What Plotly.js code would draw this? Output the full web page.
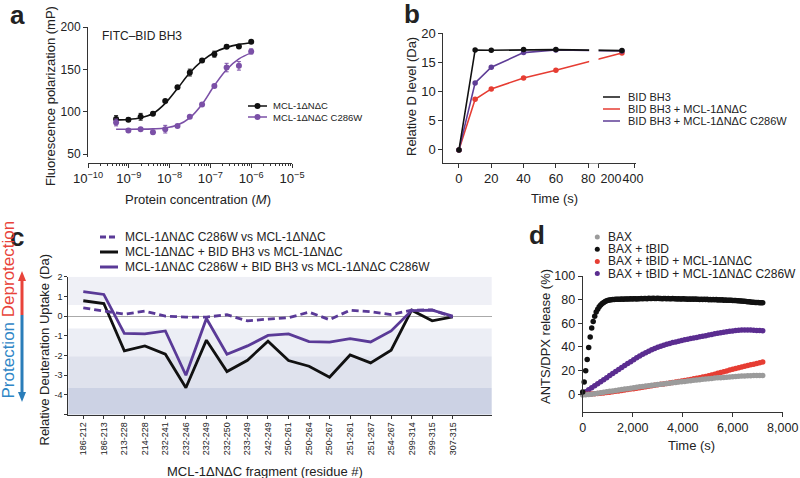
<!DOCTYPE html>
<html><head><meta charset="utf-8">
<script src="https://cdn.plot.ly/plotly-3.0.1.min.js"></script>
<style>html,body{margin:0;padding:0;background:#fff}</style>
</head><body><div id="chart" style="width:800px;height:478px"></div>
<script>
// ---------------- Panel a: fluorescence polarization ----------------
const aConc = [4.88e-10, 9.77e-10, 1.95e-9, 3.91e-9, 7.81e-9, 1.56e-8, 3.13e-8, 6.25e-8, 1.25e-7, 2.5e-7, 5e-7, 1e-6];
const aWT = [91.5, 90.7, 94.2, 97.8, 112.8, 129, 146.3, 160.5, 168, 176.7, 177.1, 182.6];
const aWTerr = [4, 2, 4, 2, 1.5, 1.5, 4, 2, 3.5, 2, 1.5, 1.5];
const aMut = [87.5, 78, 79.6, 76, 79.6, 83.2, 94.2, 108.8, 130.5, 152.2, 154.2, 171.2];
const aMutErr = [4, 1.5, 1.5, 2, 4.5, 1.5, 1.5, 1.5, 1.5, 5, 5, 3];
const aWTfit = [90.5, 91, 93, 98, 110, 127.5, 146, 160, 170, 176, 179.5, 181.5];
const aMutFit = [79.5, 79.5, 79.6, 80, 81, 84.5, 93, 109, 131, 150, 162.5, 169.5];
const aNames = ['MCL-1ΔNΔC', 'MCL-1ΔNΔC C286W'];

// ---------------- Panel b: HDX of BID BH3 ----------------
const bTime = [0, 10, 20, 40, 60, 300];
const bBid = [0, 17.14, 17.09, 17.2, 17.2, 17.03];
const bWT = [0, 8.69, 10.46, 12.34, 13.66, 16.63];
const bMut = [0, 11.49, 14.17, 16.69, 17.14, 16.97];
const bTickTimes = [0, 20, 40, 60, 80, 200, 400];
const bTickText = ['0', '20', '40', '60', '80', '200', '400'];
const bNames = ['BID BH3', 'BID BH3 + MCL-1ΔNΔC', 'BID BH3 + MCL-1ΔNΔC C286W'];

// ---------------- Panel c: differential deuteration ----------------
const cFrag = ['186-212','186-213','213-228','214-228','232-241','232-246','232-249','232-250','233-249','242-249','250-261','250-264','250-267','251-261','251-267','254-267','299-314','299-315','307-315'];
const cMutVsWT = [0.42, 0.25, 0.1, 0.25, 0.0, -0.05, -0.05, 0.07, -0.24, -0.15, -0.08, 0.2, -0.18, 0.3, 0.22, 0.08, 0.3, 0.32, -0.05];
const cWTBid = [0.78, 0.64, -1.76, -1.51, -1.93, -3.63, -1.22, -2.81, -2.24, -1.27, -2.25, -2.54, -3.1, -1.97, -2.37, -1.73, 0.3, -0.24, -0.04];
const cMutBid = [1.24, 1.1, -0.88, -0.9, -0.75, -3.0, -0.12, -1.93, -1.51, -0.98, -0.9, -1.29, -1.32, -1.14, -1.31, -0.75, 0.28, 0.3, 0.0];
const cYTicks = [-5, -4, -3, -2, -1, 0, 1, 2];
const cYText = ['', '-4', '-3', '-2', '-1', '0', '1', '2'];
const cNames = ['MCL-1ΔNΔC C286W vs MCL-1ΔNΔC', 'MCL-1ΔNΔC + BID BH3 vs MCL-1ΔNΔC', 'MCL-1ΔNΔC C286W + BID BH3 vs MCL-1ΔNΔC C286W'];

// ---------------- Panel d: ANTS/DPX release ----------------
const dTimeFine = [0,60,120,180,240,300,360,420,480,540,600,660,720,780,840,900,960,1020,1080,1140,1200,1260,1320,1380,1440,1500,1560,1620,1680,1740,1800,1860,1920,1980,2040,2100,2160,2220,2280,2340,2400,2460,2520,2580,2640,2700,2760,2820,2880,2940,3000,3060,3120,3180,3240,3300,3360,3420,3480,3540,3600,3660,3720,3780,3840,3900,3960,4020,4080,4140,4200,4260,4320,4380,4440,4500,4560,4620,4680,4740,4800,4860,4920,4980,5040,5100,5160,5220,5280,5340,5400,5460,5520,5580,5640,5700,5760,5820,5880,5940,6000,6060,6120,6180,6240,6300,6360,6420,6480,6540,6600,6660,6720,6780,6840,6900,6960,7020,7080,7140,7200];
const dBid = [2,10.5,20,29.5,39.5,48.5,56,61.5,66,69.5,72,74,75.5,76.8,77.7,78.4,79,79.4,79.7,80,80.1,
  80.2,80.3,80.3,80.4,80.3,80.5,80.4,80.6,80.5,80.6,80.5,80.7,80.6,80.7,80.8,80.6,80.8,80.7,80.9,80.8,
  80.9,81,80.8,81.1,81,80.9,81.2,81,80.9,81.1,80.9,81,80.8,81,80.9,80.8,81,80.8,80.7,80.9,
  80.7,80.8,80.6,80.8,80.6,80.5,80.7,80.5,80.6,80.4,80.6,80.4,80.5,80.3,80.5,80.3,80.4,80.2,80.4,80.2,
  80.3,80.1,80.3,80,80.2,80,80.1,79.9,80.1,79.8,80,79.7,79.9,79.6,79.8,79.5,79.6,79.4,79.5,79.3,
  79.2,79.3,79,79.1,78.8,78.9,78.6,78.6,78.4,78.3,78.2,78,77.9,77.8,77.7,77.6,77.5,77.4,77.4,77.3];
const dTime = [0,120,240,360,480,600,720,840,960,1080,1200,1320,1440,1560,1680,1800,1920,2040,2160,2280,2400,2520,2640,2760,2880,3000,3120,3240,3360,3480,3600,3720,3840,3960,4080,4200,4320,4440,4560,4680,4800,4920,5040,5160,5280,5400,5520,5640,5760,5880,6000,6120,6240,6360,6480,6600,6720,6840,6960,7080,7200];
const dBax = [-0.5,-0.4,-0.2,0,0.4,0.9,1.3,1.7,2.1,2.5, 2.9,3.3,3.7,4.0,4.4,4.8,5.2,5.6,5.9,6.3, 6.6,7.0,7.3,7.6,7.9,8.2,8.5,8.8,9.1,9.4, 9.7,10.0,10.3,10.6,10.9,11.2,11.5,11.8,12.1,12.4, 12.7,12.9,13.2,13.4,13.7,13.9,14.1,14.3,14.5,14.7, 14.9,15.1,15.2,15.4,15.5,15.6,15.7,15.8,15.8,15.8, 15.8];
const dWT = [0,0,0.1,0.2,0.4,0.6,0.9,1.2,1.5,1.8, 2.1,2.5,2.8,3.2,3.6,4.0,4.4,4.8,5.2,5.6, 6.0,6.4,6.8,7.2,7.6,8.0,8.4,8.8,9.2,9.6, 10.0,10.4,10.8,11.2,11.6,12.1,12.6,13.1,13.6,14.1, 14.6,15.1,15.6,16.3,17.0,17.7,18.4,19.1,19.8,20.5, 21.2,21.9,22.5,23.1,23.7,24.3,24.9,25.5,26.1,26.7, 27.3];
const dMut = [0.5,2.2,3.9,5.6,7.3,9.0,10.7,12.4,14.1,15.8, 17.5,19.2,20.9,22.6,24.3,26.0,27.6,29.2,30.8,32.3, 33.8,35.2,36.5,37.7,38.8,39.8,40.7,41.5,42.3,43.0, 43.7,44.3,44.9,45.5,46.1,46.6,47.1,47.6,48.1,48.6, 49.1,49.6,50.1,50.6,51.1,51.6,52.1,52.5,52.9,53.3, 53.6,53.9,54.1,54.3,54.4,54.4,54.3,54.2,54.0,53.9, 53.8];
const dNames = ['BAX', 'BAX + tBID', 'BAX + tBID + MCL-1ΔNΔC', 'BAX + tBID + MCL-1ΔNΔC C286W'];

// ---------------- helpers ----------------
const W = 800, H = 478;
const px = v => v / W;
const py = v => 1 - v / H;
const FONT = 'Liberation Sans, Arial, Helvetica, sans-serif';
const TXT = '#222';
const BLACK = '#111', RED = '#e63d33', GRAY = '#9b9b9b';
const PURA = '#7b50a7', PURB = '#5e3d96', PURC = '#5a3a97', PURD = '#5b2d90';

// broken time axis for panel b (0-80 linear, then compressed 200-400 segment)
function bBreak(t) { return t <= 80 ? t : 94.1 + (t - 200) * 0.068; }

const axBase = {showline: true, linecolor: '#333', linewidth: 1, ticks: 'outside', ticklen: 4,
  tickcolor: '#333', tickwidth: 1, showgrid: false, zeroline: false, fixedrange: true,
  tickfont: {family: FONT, size: 12, color: TXT}};
const ax = o => Object.assign({}, axBase, o);

const traces = [];
// a
traces.push({x: aConc, y: aWTfit, xaxis: 'x', yaxis: 'y', mode: 'lines', line: {color: BLACK, width: 1.6, shape: 'spline'}});
traces.push({x: aConc, y: aMutFit, xaxis: 'x', yaxis: 'y', mode: 'lines', line: {color: PURA, width: 1.6, shape: 'spline'}});
traces.push({x: aConc, y: aWT, xaxis: 'x', yaxis: 'y', mode: 'markers', marker: {color: BLACK, size: 6},
  error_y: {type: 'data', array: aWTerr, color: BLACK, thickness: 1, width: 2}});
traces.push({x: aConc, y: aMut, xaxis: 'x', yaxis: 'y', mode: 'markers', marker: {color: PURA, size: 6},
  error_y: {type: 'data', array: aMutErr, color: PURA, thickness: 1, width: 2}});
// b
const bx = bTime.map(bBreak);
[[bWT, RED], [bMut, PURB], [bBid, BLACK]].forEach(([ys, c]) => traces.push({
  x: bx, y: ys, xaxis: 'x2', yaxis: 'y2', mode: 'lines+markers', cliponaxis: false,
  line: {color: c, width: 1.6}, marker: {color: c, size: 5.5}}));
traces.push({x: [], y: [], xaxis: 'x5', yaxis: 'y2', mode: 'markers'});
// c
traces.push({x: cFrag, y: cWTBid, xaxis: 'x3', yaxis: 'y3', mode: 'lines', line: {color: BLACK, width: 2.8}});
traces.push({x: cFrag, y: cMutBid, xaxis: 'x3', yaxis: 'y3', mode: 'lines', line: {color: PURC, width: 2.8}});
traces.push({x: cFrag, y: cMutVsWT, xaxis: 'x3', yaxis: 'y3', mode: 'lines', line: {color: PURC, width: 2.8, dash: '7px,4px'}});
// d
traces.push({x: dTime, y: dMut, xaxis: 'x4', yaxis: 'y4', mode: 'markers', cliponaxis: false, marker: {color: PURD, size: 5.5}});
traces.push({x: dTime, y: dWT, xaxis: 'x4', yaxis: 'y4', mode: 'markers', cliponaxis: false, marker: {color: RED, size: 5.5}});
traces.push({x: dTime, y: dBax, xaxis: 'x4', yaxis: 'y4', mode: 'markers', cliponaxis: false, marker: {color: GRAY, size: 5.5}});
traces.push({x: dTimeFine, y: dBid, xaxis: 'x4', yaxis: 'y4', mode: 'markers', cliponaxis: false, marker: {color: BLACK, size: 5.5}});
traces.forEach(t => { t.showlegend = false; t.hoverinfo = 'skip'; });

const shapes = [];
const annotations = [];
function note(text, x, y, size, opts) {
  annotations.push(Object.assign({xref: 'paper', yref: 'paper', x: px(x), y: py(y), text: text, showarrow: false,
    xanchor: 'center', yanchor: 'middle', font: {family: FONT, size: size, color: TXT}}, opts || {}));
}
function legend(entries, o) {
  entries.forEach((e, i) => {
    const y = o.y0 + i * o.dy;
    if (e.line) shapes.push({type: 'line', xref: 'paper', yref: 'paper', x0: px(o.lx0), x1: px(o.lx1), y0: py(y), y1: py(y),
      line: {color: e.color, width: o.lw, dash: e.dash || 'solid'}});
    if (e.marker) shapes.push({type: 'circle', xref: 'paper', yref: 'paper', x0: px(o.mx - o.mr), x1: px(o.mx + o.mr),
      y0: py(y + o.mr), y1: py(y - o.mr), fillcolor: e.color, line: {width: 0}});
    note(e.name, o.tx, y, o.font, {xanchor: 'left'});
  });
}

// panel letters
note('<b>a</b>', 17, 15, 26);
note('<b>b</b>', 412, 14, 26);
note('<b>c</b>', 17, 237, 26);
note('<b>d</b>', 537, 235, 26);

// axis titles
note('Fluorescence polarization (mP)', 51, 96, 13, {textangle: -90});
note('Protein concentration (<i>M</i>)', 198, 199, 13);
note('FITC–BID BH3', 100, 36, 12, {xanchor: 'left'});
note('Relative D level (Da)', 411, 97, 13, {textangle: -90});
note('Time (s)', 554, 198, 13);
note('Relative Deuteration Uptake (Da)', 43.5, 350, 13, {textangle: -90});
note('MCL-1ΔNΔC fragment (residue #)', 265, 471, 13);
note('ANTS/DPX release (%)', 545, 337, 13, {textangle: -90});
note('Time (s)', 691, 445, 13);
note('<span style="color:#2f86c6">Protection</span> <span style="color:#e8433a">Deprotection</span>', 7.5, 310, 17, {textangle: -90});

// protection arrows
shapes.push({type: 'line', xref: 'paper', yref: 'paper', x0: px(22), x1: px(22), y0: py(315), y1: py(280), line: {color: '#e8433a', width: 3}});
shapes.push({type: 'path', xref: 'paper', yref: 'paper', path: `M${px(18)},${py(281)} L${px(26)},${py(281)} L${px(22)},${py(271)} Z`, fillcolor: '#e8433a', line: {width: 0}});
shapes.push({type: 'line', xref: 'paper', yref: 'paper', x0: px(22), x1: px(22), y0: py(315), y1: py(393), line: {color: '#2a7db9', width: 3}});
shapes.push({type: 'path', xref: 'paper', yref: 'paper', path: `M${px(18)},${py(392)} L${px(26)},${py(392)} L${px(22)},${py(402)} Z`, fillcolor: '#2a7db9', line: {width: 0}});

// panel c background bands
[[0.56, 2, '#eff0f6'], [-2.03, -0.63, '#eceef5'], [-3.64, -2.03, '#dfe2ed'], [-5, -3.64, '#ccd2e4']].forEach(([y0, y1, c]) =>
  shapes.push({type: 'rect', xref: 'x3 domain', yref: 'y3', x0: 0, x1: 1, y0: y0, y1: y1, fillcolor: c, line: {width: 0}, layer: 'below'}));

// panel b axis break
shapes.push({type: 'rect', xref: 'x2', yref: 'paper', x0: 80.6, x1: bBreak(91) - 0.3, y0: py(163.6), y1: py(28),
  fillcolor: '#fff', line: {width: 0}, layer: 'above'});

// legends
legend(aNames.map((n, i) => ({name: n, color: [BLACK, PURA][i], line: true, marker: true})),
  {lx0: 248, lx1: 267, mx: 257.5, mr: 3, tx: 271, y0: 106, dy: 11, lw: 1.5, font: 9.5});
legend(bNames.map((n, i) => ({name: n, color: [BLACK, RED, PURB][i], line: true})),
  {lx0: 603, lx1: 620, tx: 626, y0: 97, dy: 12, lw: 1.5, font: 11});
legend(cNames.map((n, i) => ({name: n, color: [PURC, BLACK, PURC][i], line: true, dash: i === 0 ? '6px,3px' : 'solid'})),
  {lx0: 100, lx1: 118, tx: 123, y0: 237, dy: 15, lw: 3, font: 12});
legend(dNames.map((n, i) => ({name: n, color: [GRAY, BLACK, RED, PURD][i], marker: true})),
  {mx: 597.3, mr: 2.5, tx: 605.5, y0: 237, dy: 12.2, font: 12});

const layout = {
  width: W, height: H, margin: {l: 0, r: 0, t: 0, b: 0}, paper_bgcolor: '#fff', plot_bgcolor: 'rgba(0,0,0,0)',
  showlegend: false, hovermode: false, font: {family: FONT, color: TXT},
  // a
  xaxis: ax({domain: [px(88), px(292)], type: 'log', range: [-10, -5], dtick: 1, exponentformat: 'power',
    anchor: 'free', position: py(163), tickfont: {family: FONT, size: 10.5, color: TXT},
    minor: {ticks: 'outside', ticklen: 2, tickcolor: '#333', dtick: 'D1', showgrid: false}}),
  yaxis: ax({domain: [py(157), py(27)], range: [46.8, 200], tickvals: [50, 100, 150, 200], anchor: 'x'}),
  // b
  xaxis2: ax({domain: [px(443.3), px(636)], range: [-9.7, 109.6], anchor: 'y2', tickangle: 0, tickfont: {family: FONT, size: 13, color: TXT},
    tickvals: bTickTimes.filter(t => t <= 80).map(bBreak).concat([bBreak(91), bBreak(418)]),
    ticktext: bTickText.filter((s, i) => bTickTimes[i] <= 80).concat(['', ''])}),
  xaxis5: ax({overlaying: 'x2', anchor: 'y2', side: 'bottom', range: [-9.7, 109.6], showline: false, tickcolor: 'rgba(0,0,0,0)',
    tickangle: 0, tickfont: {family: FONT, size: 12.5, color: TXT},
    tickvals: bTickTimes.filter(t => t > 80).map(bBreak), ticktext: bTickText.filter((s, i) => bTickTimes[i] > 80)}),
  yaxis2: ax({domain: [py(162.7), py(33.3)], range: [-2.2, 20], tickvals: [0, 5, 10, 15, 20], anchor: 'x2',
    tickfont: {family: FONT, size: 13, color: TXT}}),
  // c
  xaxis3: ax({domain: [px(68.3), px(491.7)], type: 'category', categoryorder: 'array', categoryarray: cFrag,
    range: [-0.73, 19.9], tickangle: -90, anchor: 'y3', ticklen: 3, tickfont: {family: FONT, size: 9, color: TXT}}),
  yaxis3: ax({domain: [py(414.7), py(276.7)], range: [-5, 2], tickvals: cYTicks, ticktext: cYText, anchor: 'x3', ticklen: 3,
    zeroline: true, zerolinecolor: '#aaa', zerolinewidth: 1, tickfont: {family: FONT, size: 9, color: TXT}}),
  // d
  xaxis4: ax({domain: [px(582.7), px(782.7)], range: [0, 8000], tickvals: [0, 2000, 4000, 6000, 8000], tickformat: ',',
    anchor: 'y4', tickangle: 0, tickfont: {family: FONT, size: 12.5, color: TXT}}),
  yaxis4: ax({domain: [py(411.7), py(276)], range: [-14.7, 100], tickvals: [0, 20, 40, 60, 80, 100], anchor: 'x4',
    tickfont: {family: FONT, size: 12.5, color: TXT}}),
  shapes: shapes, annotations: annotations
};

Plotly.newPlot('chart', traces, layout, {staticPlot: true, displayModeBar: false});
</script></body></html>
